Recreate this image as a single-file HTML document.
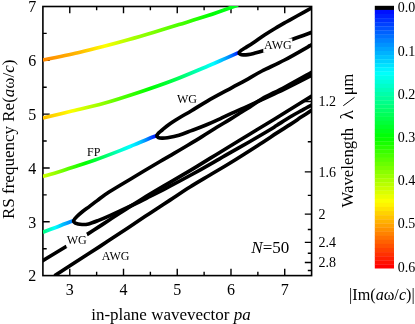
<!DOCTYPE html>
<html><head><meta charset="utf-8"><title>RS dispersion</title>
<style>html,body{margin:0;padding:0;background:#fff;}svg{display:block}text{font-family:"Liberation Serif",serif;fill:#000}</style></head><body>
<svg width="415" height="324" viewBox="0 0 415 324">
<rect width="415" height="324" fill="#fff"/>
<defs><filter id="idf" x="0" y="0" width="415" height="324" filterUnits="userSpaceOnUse" color-interpolation-filters="sRGB"><feOffset dx="0" dy="0"/></filter><clipPath id="clip"><rect x="42.90" y="6.00" width="268.70" height="269.60"/></clipPath>
<linearGradient id="gA" gradientUnits="userSpaceOnUse" x1="43.0" y1="0" x2="238.0" y2="0">
<stop offset="0.0000" stop-color="#ff8800"/>
<stop offset="0.0474" stop-color="#ff9500"/>
<stop offset="0.0949" stop-color="#ffa200"/>
<stop offset="0.1423" stop-color="#ffae00"/>
<stop offset="0.1897" stop-color="#ffbb00"/>
<stop offset="0.2218" stop-color="#ffcc00"/>
<stop offset="0.2538" stop-color="#ffdd00"/>
<stop offset="0.2859" stop-color="#ffee00"/>
<stop offset="0.3179" stop-color="#ffff00"/>
<stop offset="0.3372" stop-color="#f2ff00"/>
<stop offset="0.3564" stop-color="#e5ff00"/>
<stop offset="0.3756" stop-color="#d9ff00"/>
<stop offset="0.3949" stop-color="#ccff00"/>
<stop offset="0.4179" stop-color="#bfff00"/>
<stop offset="0.4410" stop-color="#b3ff00"/>
<stop offset="0.4641" stop-color="#a6ff00"/>
<stop offset="0.4872" stop-color="#99ff00"/>
<stop offset="0.5218" stop-color="#8cff00"/>
<stop offset="0.5564" stop-color="#80ff00"/>
<stop offset="0.5910" stop-color="#73ff00"/>
<stop offset="0.6256" stop-color="#66ff00"/>
<stop offset="0.6577" stop-color="#59ff00"/>
<stop offset="0.6897" stop-color="#4cff00"/>
<stop offset="0.7218" stop-color="#40ff00"/>
<stop offset="0.7538" stop-color="#33ff00"/>
<stop offset="0.7795" stop-color="#26ff00"/>
<stop offset="0.8051" stop-color="#1aff00"/>
<stop offset="0.8308" stop-color="#0dff00"/>
<stop offset="0.8564" stop-color="#00ff00"/>
<stop offset="0.8923" stop-color="#00ff09"/>
<stop offset="0.9282" stop-color="#00ff11"/>
<stop offset="0.9641" stop-color="#00ff19"/>
<stop offset="1" stop-color="#00ff22"/>
</linearGradient>
<linearGradient id="gB" gradientUnits="userSpaceOnUse" x1="43.0" y1="0" x2="238.5" y2="0">
<stop offset="0.0000" stop-color="#ffbe00"/>
<stop offset="0.0281" stop-color="#ffca00"/>
<stop offset="0.0563" stop-color="#ffd600"/>
<stop offset="0.0844" stop-color="#ffe200"/>
<stop offset="0.1125" stop-color="#ffee00"/>
<stop offset="0.1317" stop-color="#fffb00"/>
<stop offset="0.1509" stop-color="#f7ff00"/>
<stop offset="0.1701" stop-color="#eaff00"/>
<stop offset="0.1893" stop-color="#ddff00"/>
<stop offset="0.2148" stop-color="#ccff00"/>
<stop offset="0.2404" stop-color="#bbff00"/>
<stop offset="0.2660" stop-color="#aaff00"/>
<stop offset="0.2916" stop-color="#99ff00"/>
<stop offset="0.3171" stop-color="#88ff00"/>
<stop offset="0.3427" stop-color="#77ff00"/>
<stop offset="0.3683" stop-color="#66ff00"/>
<stop offset="0.3939" stop-color="#55ff00"/>
<stop offset="0.4169" stop-color="#48ff00"/>
<stop offset="0.4399" stop-color="#3cff00"/>
<stop offset="0.4629" stop-color="#2fff00"/>
<stop offset="0.4859" stop-color="#22ff00"/>
<stop offset="0.5013" stop-color="#1aff00"/>
<stop offset="0.5166" stop-color="#11ff00"/>
<stop offset="0.5320" stop-color="#08ff00"/>
<stop offset="0.5473" stop-color="#00ff00"/>
<stop offset="0.5793" stop-color="#00ff13"/>
<stop offset="0.6113" stop-color="#00ff26"/>
<stop offset="0.6432" stop-color="#00ff39"/>
<stop offset="0.6752" stop-color="#00ff4c"/>
<stop offset="0.7008" stop-color="#00ff64"/>
<stop offset="0.7263" stop-color="#00ff7b"/>
<stop offset="0.7519" stop-color="#00ff93"/>
<stop offset="0.7775" stop-color="#00ffaa"/>
<stop offset="0.8005" stop-color="#00ffbf"/>
<stop offset="0.8235" stop-color="#00ffd4"/>
<stop offset="0.8465" stop-color="#00ffea"/>
<stop offset="0.8696" stop-color="#00ffff"/>
<stop offset="0.8849" stop-color="#00eaff"/>
<stop offset="0.9003" stop-color="#00d4ff"/>
<stop offset="0.9156" stop-color="#00bfff"/>
<stop offset="0.9309" stop-color="#00aaff"/>
<stop offset="0.9399" stop-color="#009bff"/>
<stop offset="0.9488" stop-color="#008cff"/>
<stop offset="0.9578" stop-color="#007dff"/>
<stop offset="0.9668" stop-color="#006eff"/>
<stop offset="0.9719" stop-color="#0062ff"/>
<stop offset="0.9770" stop-color="#0055ff"/>
<stop offset="0.9821" stop-color="#0048ff"/>
<stop offset="0.9872" stop-color="#003cff"/>
<stop offset="0.9904" stop-color="#002dff"/>
<stop offset="0.9936" stop-color="#001eff"/>
<stop offset="0.9968" stop-color="#000fff"/>
<stop offset="1" stop-color="#000"/>
</linearGradient>
<linearGradient id="gC" gradientUnits="userSpaceOnUse" x1="43.0" y1="0" x2="156.5" y2="0">
<stop offset="0.0000" stop-color="#ccff00"/>
<stop offset="0.0374" stop-color="#b9ff00"/>
<stop offset="0.0749" stop-color="#a6ff00"/>
<stop offset="0.1123" stop-color="#93ff00"/>
<stop offset="0.1498" stop-color="#80ff00"/>
<stop offset="0.1828" stop-color="#6cff00"/>
<stop offset="0.2159" stop-color="#59ff00"/>
<stop offset="0.2489" stop-color="#46ff00"/>
<stop offset="0.2819" stop-color="#33ff00"/>
<stop offset="0.3040" stop-color="#26ff00"/>
<stop offset="0.3260" stop-color="#1aff00"/>
<stop offset="0.3480" stop-color="#0dff00"/>
<stop offset="0.3700" stop-color="#00ff00"/>
<stop offset="0.4141" stop-color="#00ff1a"/>
<stop offset="0.4581" stop-color="#00ff33"/>
<stop offset="0.5022" stop-color="#00ff4c"/>
<stop offset="0.5463" stop-color="#00ff66"/>
<stop offset="0.5793" stop-color="#00ff80"/>
<stop offset="0.6123" stop-color="#00ff99"/>
<stop offset="0.6454" stop-color="#00ffb2"/>
<stop offset="0.6784" stop-color="#00ffcc"/>
<stop offset="0.7004" stop-color="#00ffd9"/>
<stop offset="0.7225" stop-color="#00ffe6"/>
<stop offset="0.7445" stop-color="#00fff2"/>
<stop offset="0.7665" stop-color="#00ffff"/>
<stop offset="0.7885" stop-color="#00f1ff"/>
<stop offset="0.8106" stop-color="#00e4ff"/>
<stop offset="0.8326" stop-color="#00d6ff"/>
<stop offset="0.8546" stop-color="#00c9ff"/>
<stop offset="0.8700" stop-color="#00b7ff"/>
<stop offset="0.8855" stop-color="#00a5ff"/>
<stop offset="0.9009" stop-color="#0093ff"/>
<stop offset="0.9163" stop-color="#0081ff"/>
<stop offset="0.9273" stop-color="#0072ff"/>
<stop offset="0.9383" stop-color="#0063ff"/>
<stop offset="0.9493" stop-color="#0053ff"/>
<stop offset="0.9604" stop-color="#0044ff"/>
<stop offset="0.9659" stop-color="#003cff"/>
<stop offset="0.9714" stop-color="#0033ff"/>
<stop offset="0.9769" stop-color="#002bff"/>
<stop offset="0.9824" stop-color="#0022ff"/>
<stop offset="0.9868" stop-color="#001aff"/>
<stop offset="0.9912" stop-color="#0011ff"/>
<stop offset="0.9956" stop-color="#0009ff"/>
<stop offset="1" stop-color="#000"/>
</linearGradient>
<linearGradient id="gD" gradientUnits="userSpaceOnUse" x1="43.0" y1="0" x2="74.0" y2="0">
<stop offset="0.0000" stop-color="#00ff77"/>
<stop offset="0.0484" stop-color="#00ff88"/>
<stop offset="0.0968" stop-color="#00ff99"/>
<stop offset="0.1452" stop-color="#00ffaa"/>
<stop offset="0.1935" stop-color="#00ffbb"/>
<stop offset="0.2419" stop-color="#00ffcc"/>
<stop offset="0.2903" stop-color="#00ffdd"/>
<stop offset="0.3387" stop-color="#00ffee"/>
<stop offset="0.3871" stop-color="#00ffff"/>
<stop offset="0.4435" stop-color="#00f0ff"/>
<stop offset="0.5000" stop-color="#00e1ff"/>
<stop offset="0.5565" stop-color="#00d2ff"/>
<stop offset="0.6129" stop-color="#00c4ff"/>
<stop offset="0.6613" stop-color="#00baff"/>
<stop offset="0.7097" stop-color="#00b0ff"/>
<stop offset="0.7581" stop-color="#00a6ff"/>
<stop offset="0.8065" stop-color="#009cff"/>
<stop offset="0.8387" stop-color="#0095ff"/>
<stop offset="0.8710" stop-color="#008eff"/>
<stop offset="0.9032" stop-color="#0087ff"/>
<stop offset="0.9355" stop-color="#0080ff"/>
<stop offset="0.9516" stop-color="#0079ff"/>
<stop offset="0.9677" stop-color="#0073ff"/>
<stop offset="0.9839" stop-color="#006cff"/>
<stop offset="1" stop-color="#0066ff"/>
</linearGradient>
</defs>
<g filter="url(#idf)">
<path d="M69.77,275.60v-6.80 M69.77,6.50v6.80 M96.64,275.60v-3.80 M96.64,6.50v3.80 M123.51,275.60v-6.80 M123.51,6.50v6.80 M150.38,275.60v-3.80 M150.38,6.50v3.80 M177.25,275.60v-6.80 M177.25,6.50v6.80 M204.12,275.60v-3.80 M204.12,6.50v3.80 M230.99,275.60v-6.80 M230.99,6.50v6.80 M257.86,275.60v-3.80 M257.86,6.50v3.80 M284.73,275.60v-6.80 M284.73,6.50v6.80 M42.90,248.69h3.80 M42.90,221.78h6.80 M42.90,194.87h3.80 M42.90,167.96h6.80 M42.90,141.05h3.80 M42.90,114.14h6.80 M42.90,87.23h3.80 M42.90,60.32h6.80 M42.90,33.41h3.80 M311.60,45.08h-3.80 M311.60,101.44h-6.80 M311.60,141.70h-3.80 M311.60,171.89h-6.80 M311.60,195.37h-3.80 M311.60,214.16h-6.80 M311.60,229.53h-3.80 M311.60,242.34h-6.80 M311.60,253.18h-3.80 M311.60,262.47h-6.80 M311.60,270.52h-3.80 " stroke="#000" stroke-width="1.4" fill="none"/>
<rect x="42.90" y="6.50" width="268.70" height="269.10" stroke="#000" stroke-width="1.6" fill="none"/>
<g clip-path="url(#clip)" fill="none" stroke-linecap="butt" stroke-linejoin="round">
<path d="M42.90,60.00 C49.08,58.70 69.82,54.48 80.00,52.20 C90.18,49.92 95.83,48.42 104.00,46.30 C112.17,44.18 120.67,41.85 129.00,39.50 C137.33,37.15 145.67,34.68 154.00,32.20 C162.33,29.72 170.00,27.37 179.00,24.60 C188.00,21.83 198.17,18.87 208.00,15.60 C217.83,12.33 233.00,6.77 238.00,5.00" stroke="url(#gA)" stroke-width="3.65"/>
<path d="M42.90,118.10 C47.42,117.00 59.82,113.97 70.00,111.50 C80.18,109.03 92.33,106.55 104.00,103.30 C115.67,100.05 128.67,95.75 140.00,92.00 C151.33,88.25 160.67,85.13 172.00,80.80 C183.33,76.47 199.17,69.70 208.00,66.00 C216.83,62.30 219.92,60.82 225.00,58.60 C230.08,56.38 236.25,53.68 238.50,52.70" stroke="url(#gB)" stroke-width="3.65"/>
<path d="M42.90,176.40 C45.75,175.58 54.10,173.32 60.00,171.50 C65.90,169.68 72.47,167.42 78.30,165.50 C84.13,163.58 88.05,162.48 95.00,160.00 C101.95,157.52 113.50,153.12 120.00,150.60 C126.50,148.08 129.33,146.83 134.00,144.90 C138.67,142.97 144.13,140.57 148.00,139.00 C151.87,137.43 155.67,136.08 157.20,135.50" stroke="url(#gC)" stroke-width="3.65"/>
<path d="M42.90,232.20 C44.92,231.45 51.32,229.10 55.00,227.70 C58.68,226.30 61.85,225.02 65.00,223.80 C68.15,222.58 72.42,220.97 73.90,220.40" stroke="url(#gD)" stroke-width="3.65"/>
<path d="M313.00,7.20 C310.33,8.67 301.47,13.53 297.00,16.00 C292.53,18.47 289.80,19.97 286.20,22.00 C282.60,24.03 279.02,26.03 275.40,28.20 C271.78,30.37 268.12,32.63 264.50,35.00 C260.88,37.37 256.95,40.23 253.70,42.40 C250.45,44.57 247.08,46.67 245.00,48.00 C242.92,49.33 242.17,49.62 241.20,50.40 C240.23,51.18 239.30,52.02 239.20,52.70 C239.10,53.38 239.93,54.13 240.60,54.50 C241.27,54.87 241.97,54.88 243.20,54.90 C244.43,54.92 246.25,54.85 248.00,54.60 C249.75,54.35 251.30,54.00 253.70,53.40 C256.10,52.80 258.52,52.30 262.40,51.00 C266.28,49.70 271.95,47.57 277.00,45.60 C282.05,43.63 286.70,41.48 292.70,39.20 C298.70,36.92 309.62,33.12 313.00,31.90" stroke="#000" stroke-width="3.65"/>
<path d="M313.00,44.00 C308.27,46.67 293.10,55.50 284.60,60.00 C276.10,64.50 268.52,67.62 262.00,71.00 C255.48,74.38 250.50,77.53 245.50,80.30 C240.50,83.07 238.29,84.18 232.00,87.60 C225.71,91.02 214.50,96.95 207.75,100.80 C201.00,104.65 196.29,107.83 191.50,110.70 C186.71,113.57 182.75,115.72 179.00,118.00 C175.25,120.28 171.80,122.40 169.00,124.40 C166.20,126.40 163.93,128.55 162.20,130.00 C160.47,131.45 159.48,132.15 158.60,133.10 C157.72,134.05 156.93,134.95 156.90,135.70 C156.87,136.45 157.55,137.20 158.40,137.60 C159.25,138.00 160.48,138.08 162.00,138.10 C163.52,138.12 164.67,138.18 167.50,137.70 C170.33,137.22 175.00,136.38 179.00,135.20 C183.00,134.02 186.71,132.42 191.50,130.60 C196.29,128.78 203.00,126.27 207.75,124.30 C212.50,122.33 215.96,120.65 220.00,118.80 C224.04,116.95 227.88,115.07 232.00,113.20 C236.12,111.33 239.70,109.87 244.70,107.60 C249.70,105.33 255.28,102.73 262.00,99.60 C268.72,96.47 276.50,92.97 285.00,88.80 C293.50,84.63 308.33,76.97 313.00,74.60" stroke="#000" stroke-width="3.65"/>
<path d="M313.00,71.50 C308.33,74.08 293.50,82.45 285.00,87.00 C276.50,91.55 267.83,95.48 262.00,98.80 C256.17,102.12 253.67,104.53 250.00,106.90 C246.33,109.27 243.33,110.92 240.00,113.00 C236.67,115.08 233.87,117.02 230.00,119.40 C226.13,121.78 221.47,124.43 216.80,127.30 C212.13,130.17 206.83,133.62 202.00,136.60 C197.17,139.58 192.47,142.40 187.80,145.20 C183.13,148.00 178.63,150.68 174.00,153.40 C169.37,156.12 166.67,157.57 160.00,161.50 C153.33,165.43 142.43,171.95 134.00,177.00 C125.57,182.05 115.53,187.87 109.40,191.80 C103.27,195.73 100.50,198.17 97.20,200.60 C93.90,203.03 92.03,204.58 89.60,206.40 C87.17,208.22 84.72,209.80 82.60,211.50 C80.48,213.20 78.38,215.08 76.90,216.60 C75.42,218.12 73.97,219.50 73.70,220.60 C73.43,221.70 73.92,222.55 75.30,223.20 C76.68,223.85 79.78,224.38 82.00,224.50 C84.22,224.62 85.93,224.55 88.60,223.90 C91.27,223.25 94.55,221.95 98.00,220.60 C101.45,219.25 104.20,218.07 109.30,215.80 C114.40,213.53 123.48,209.37 128.60,207.00 C133.72,204.63 136.43,203.35 140.00,201.60 C143.57,199.85 145.00,199.07 150.00,196.50 C155.00,193.93 163.33,189.70 170.00,186.20 C176.67,182.70 182.68,179.50 190.00,175.50 C197.32,171.50 208.07,165.50 213.90,162.20 C219.73,158.90 218.98,159.15 225.00,155.70 C231.02,152.25 242.78,145.65 250.00,141.50 C257.22,137.35 263.80,133.50 268.30,130.80 C272.80,128.10 273.38,127.60 277.00,125.30 C280.62,123.00 285.83,119.50 290.00,117.00 C294.17,114.50 298.17,112.40 302.00,110.30 C305.83,108.20 311.17,105.38 313.00,104.40" stroke="#000" stroke-width="3.65"/>
<path d="M41.00,261.80 C45.27,259.20 62.33,248.80 66.60,246.20" stroke="#000" stroke-width="3.65"/>
<path d="M86.80,234.60 C88.67,233.40 94.25,229.83 98.00,227.40 C101.75,224.97 105.63,222.40 109.30,220.00 C112.97,217.60 116.78,215.10 120.00,213.00 C123.22,210.90 125.27,209.53 128.60,207.40 C131.93,205.27 136.43,202.43 140.00,200.20 C143.57,197.97 145.00,196.97 150.00,194.00 C155.00,191.03 163.33,186.30 170.00,182.40 C176.67,178.50 183.33,174.60 190.00,170.60 C196.67,166.60 204.17,161.97 210.00,158.40 C215.83,154.83 218.33,153.27 225.00,149.20 C231.67,145.13 241.85,138.95 250.00,134.00 C258.15,129.05 267.23,123.58 273.90,119.50 C280.57,115.42 283.48,113.52 290.00,109.50 C296.52,105.48 309.17,97.75 313.00,95.40" stroke="#000" stroke-width="3.65"/>
<path d="M54.50,275.80 C57.00,274.17 61.98,270.87 69.50,266.00 C77.02,261.13 89.75,253.03 99.60,246.60 C109.45,240.17 120.20,232.97 128.60,227.40 C137.00,221.83 143.10,217.75 150.00,213.20 C156.90,208.65 163.33,204.47 170.00,200.10 C176.67,195.73 183.33,191.18 190.00,187.00 C196.67,182.82 203.45,178.92 210.00,175.00 C216.55,171.08 221.38,168.38 229.30,163.50 C237.22,158.62 249.55,150.80 257.50,145.70 C265.45,140.60 271.58,136.42 277.00,132.90 C282.42,129.38 285.83,127.32 290.00,124.60 C294.17,121.88 298.17,119.13 302.00,116.60 C305.83,114.07 311.17,110.60 313.00,109.40" stroke="#000" stroke-width="3.65"/>
</g>
<rect x="263.3" y="38.5" width="29.0" height="14.0" fill="#fff"/><text x="264.0" y="48.5" font-size="12.0">AWG</text>
<text x="177.0" y="103.3" font-size="12.0">WG</text>
<text x="87.0" y="155.7" font-size="12.0">FP</text>
<rect x="66.6" y="233.5" width="20.2" height="14.0" fill="#fff"/><text x="66.8" y="244.0" font-size="12.0">WG</text>
<text x="101.7" y="260.2" font-size="12.0">AWG</text>
<text x="251.3" y="252.8" font-size="17"><tspan font-style="italic">N</tspan>=50</text>
<text x="36.3" y="281.4" font-size="16" text-anchor="end">2</text>
<text x="36.3" y="227.6" font-size="16" text-anchor="end">3</text>
<text x="36.3" y="173.8" font-size="16" text-anchor="end">4</text>
<text x="36.3" y="119.9" font-size="16" text-anchor="end">5</text>
<text x="36.3" y="66.1" font-size="16" text-anchor="end">6</text>
<text x="36.3" y="12.3" font-size="16" text-anchor="end">7</text>
<text x="69.8" y="295.0" font-size="16" text-anchor="middle">3</text>
<text x="123.5" y="295.0" font-size="16" text-anchor="middle">4</text>
<text x="177.3" y="295.0" font-size="16" text-anchor="middle">5</text>
<text x="231.0" y="295.0" font-size="16" text-anchor="middle">6</text>
<text x="284.7" y="295.0" font-size="16" text-anchor="middle">7</text>
<text x="318.6" y="106.1" font-size="14">1.2</text>
<text x="318.6" y="176.6" font-size="14">1.6</text>
<text x="318.6" y="218.9" font-size="14">2</text>
<text x="318.6" y="247.0" font-size="14">2.4</text>
<text x="318.6" y="267.2" font-size="14">2.8</text>
<text x="91.2" y="319.6" font-size="17">in-plane wavevector <tspan font-style="italic">pa</tspan></text>
<text transform="translate(14,219.0) rotate(-90)" font-size="17">RS frequency Re(<tspan font-style="italic">a</tspan>ω/<tspan font-style="italic">c</tspan>)</text>
<text transform="translate(352.5,207.5) rotate(-90)" font-size="16.8">Wavelength</text>
<text transform="translate(352.5,119.6) rotate(-90)" font-size="19.5">λ</text>
<path d="M343.3,105.7L354.5,97.4" stroke="#000" stroke-width="1.0" fill="none"/>
<text transform="translate(352.5,95.2) rotate(-90)" font-size="16.4">μm</text>
<text x="349.0" y="300.2" font-size="16.2">|Im(<tspan font-style="italic">a</tspan>ω/<tspan font-style="italic">c</tspan>)|</text>
<rect x="374.80" y="5.800" width="19.20" height="4.405" fill="#000"/>
<rect x="374.80" y="9.905" width="19.20" height="4.405" fill="#0010ff"/>
<rect x="374.80" y="14.009" width="19.20" height="4.405" fill="#0020ff"/>
<rect x="374.80" y="18.114" width="19.20" height="4.405" fill="#0031ff"/>
<rect x="374.80" y="22.219" width="19.20" height="4.405" fill="#0041ff"/>
<rect x="374.80" y="26.323" width="19.20" height="4.405" fill="#0051ff"/>
<rect x="374.80" y="30.428" width="19.20" height="4.405" fill="#0061ff"/>
<rect x="374.80" y="34.533" width="19.20" height="4.405" fill="#0071ff"/>
<rect x="374.80" y="38.637" width="19.20" height="4.405" fill="#0082ff"/>
<rect x="374.80" y="42.742" width="19.20" height="4.405" fill="#0092ff"/>
<rect x="374.80" y="46.847" width="19.20" height="4.405" fill="#00a2ff"/>
<rect x="374.80" y="50.952" width="19.20" height="4.405" fill="#00b2ff"/>
<rect x="374.80" y="55.056" width="19.20" height="4.405" fill="#00c2ff"/>
<rect x="374.80" y="59.161" width="19.20" height="4.405" fill="#00d2ff"/>
<rect x="374.80" y="63.266" width="19.20" height="4.405" fill="#00e3ff"/>
<rect x="374.80" y="67.370" width="19.20" height="4.405" fill="#00f3ff"/>
<rect x="374.80" y="71.475" width="19.20" height="4.405" fill="#00fffb"/>
<rect x="374.80" y="75.580" width="19.20" height="4.405" fill="#00ffeb"/>
<rect x="374.80" y="79.684" width="19.20" height="4.405" fill="#00ffdb"/>
<rect x="374.80" y="83.789" width="19.20" height="4.405" fill="#00ffca"/>
<rect x="374.80" y="87.894" width="19.20" height="4.405" fill="#00ffba"/>
<rect x="374.80" y="91.998" width="19.20" height="4.405" fill="#00ffaa"/>
<rect x="374.80" y="96.103" width="19.20" height="4.405" fill="#00ff9a"/>
<rect x="374.80" y="100.208" width="19.20" height="4.405" fill="#00ff8a"/>
<rect x="374.80" y="104.312" width="19.20" height="4.405" fill="#00ff79"/>
<rect x="374.80" y="108.417" width="19.20" height="4.405" fill="#00ff69"/>
<rect x="374.80" y="112.522" width="19.20" height="4.405" fill="#00ff59"/>
<rect x="374.80" y="116.627" width="19.20" height="4.405" fill="#00ff49"/>
<rect x="374.80" y="120.731" width="19.20" height="4.405" fill="#00ff39"/>
<rect x="374.80" y="124.836" width="19.20" height="4.405" fill="#00ff28"/>
<rect x="374.80" y="128.941" width="19.20" height="4.405" fill="#00ff18"/>
<rect x="374.80" y="133.045" width="19.20" height="4.405" fill="#00ff08"/>
<rect x="374.80" y="137.150" width="19.20" height="4.405" fill="#08ff00"/>
<rect x="374.80" y="141.255" width="19.20" height="4.405" fill="#18ff00"/>
<rect x="374.80" y="145.359" width="19.20" height="4.405" fill="#28ff00"/>
<rect x="374.80" y="149.464" width="19.20" height="4.405" fill="#39ff00"/>
<rect x="374.80" y="153.569" width="19.20" height="4.405" fill="#49ff00"/>
<rect x="374.80" y="157.673" width="19.20" height="4.405" fill="#59ff00"/>
<rect x="374.80" y="161.778" width="19.20" height="4.405" fill="#69ff00"/>
<rect x="374.80" y="165.883" width="19.20" height="4.405" fill="#79ff00"/>
<rect x="374.80" y="169.988" width="19.20" height="4.405" fill="#8aff00"/>
<rect x="374.80" y="174.092" width="19.20" height="4.405" fill="#9aff00"/>
<rect x="374.80" y="178.197" width="19.20" height="4.405" fill="#aaff00"/>
<rect x="374.80" y="182.302" width="19.20" height="4.405" fill="#baff00"/>
<rect x="374.80" y="186.406" width="19.20" height="4.405" fill="#caff00"/>
<rect x="374.80" y="190.511" width="19.20" height="4.405" fill="#dbff00"/>
<rect x="374.80" y="194.616" width="19.20" height="4.405" fill="#ebff00"/>
<rect x="374.80" y="198.720" width="19.20" height="4.405" fill="#fbff00"/>
<rect x="374.80" y="202.825" width="19.20" height="4.405" fill="#fff300"/>
<rect x="374.80" y="206.930" width="19.20" height="4.405" fill="#ffe300"/>
<rect x="374.80" y="211.034" width="19.20" height="4.405" fill="#ffd200"/>
<rect x="374.80" y="215.139" width="19.20" height="4.405" fill="#ffc200"/>
<rect x="374.80" y="219.244" width="19.20" height="4.405" fill="#ffb200"/>
<rect x="374.80" y="223.348" width="19.20" height="4.405" fill="#ffa200"/>
<rect x="374.80" y="227.453" width="19.20" height="4.405" fill="#ff9200"/>
<rect x="374.80" y="231.558" width="19.20" height="4.405" fill="#ff8200"/>
<rect x="374.80" y="235.662" width="19.20" height="4.405" fill="#ff7100"/>
<rect x="374.80" y="239.767" width="19.20" height="4.405" fill="#ff6100"/>
<rect x="374.80" y="243.872" width="19.20" height="4.405" fill="#ff5100"/>
<rect x="374.80" y="247.977" width="19.20" height="4.405" fill="#ff4100"/>
<rect x="374.80" y="252.081" width="19.20" height="4.405" fill="#ff3100"/>
<rect x="374.80" y="256.186" width="19.20" height="4.405" fill="#ff2000"/>
<rect x="374.80" y="260.291" width="19.20" height="4.405" fill="#ff1000"/>
<rect x="374.80" y="264.395" width="19.20" height="4.105" fill="#ff0000"/>
<text x="397.8" y="12.3" font-size="14">0.0</text>
<text x="397.8" y="55.5" font-size="14">0.1</text>
<text x="397.8" y="98.7" font-size="14">0.2</text>
<text x="397.8" y="141.9" font-size="14">0.3</text>
<text x="397.8" y="185.1" font-size="14">0.4</text>
<text x="397.8" y="228.3" font-size="14">0.5</text>
<text x="397.8" y="271.5" font-size="14">0.6</text>
</g>
</svg></body></html>
